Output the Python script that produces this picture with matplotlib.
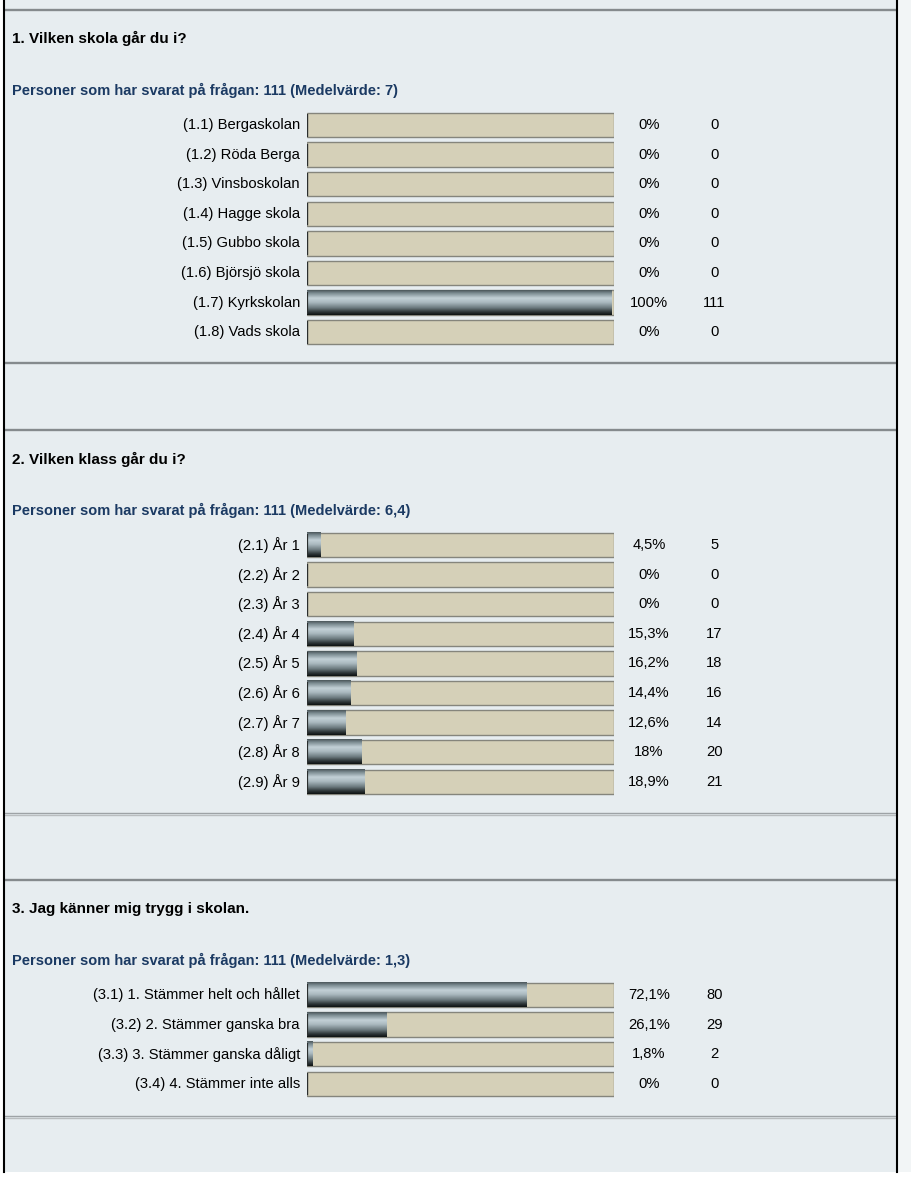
import matplotlib
matplotlib.use("Agg")
import matplotlib.pyplot as plt
import numpy as np
from matplotlib.colors import LinearSegmentedColormap

plt.rcParams['font.family'] = ['Liberation Sans', 'DejaVu Sans']

# ---------------- data ----------------
q1_title = "1. Vilken skola går du i?"
q1_sub = "Personer som har svarat på frågan: 111 (Medelvärde: 7)"
q1_labels = ["(1.1) Bergaskolan", "(1.2) Röda Berga", "(1.3) Vinsboskolan", "(1.4) Hagge skola",
             "(1.5) Gubbo skola", "(1.6) Björsjö skola", "(1.7) Kyrkskolan", "(1.8) Vads skola"]
q1_pct = [0, 0, 0, 0, 0, 0, 100, 0]
q1_cnt = [0, 0, 0, 0, 0, 0, 111, 0]

q2_title = "2. Vilken klass går du i?"
q2_sub = "Personer som har svarat på frågan: 111 (Medelvärde: 6,4)"
q2_labels = ["(2.1) År 1", "(2.2) År 2", "(2.3) År 3", "(2.4) År 4", "(2.5) År 5",
             "(2.6) År 6", "(2.7) År 7", "(2.8) År 8", "(2.9) År 9"]
q2_pct = [4.5, 0, 0, 15.3, 16.2, 14.4, 12.6, 18, 18.9]
q2_cnt = [5, 0, 0, 17, 18, 16, 14, 20, 21]

q3_title = "3. Jag känner mig trygg i skolan."
q3_sub = "Personer som har svarat på frågan: 111 (Medelvärde: 1,3)"
q3_labels = ["(3.1) 1. Stämmer helt och hållet", "(3.2) 2. Stämmer ganska bra",
             "(3.3) 3. Stämmer ganska dåligt", "(3.4) 4. Stämmer inte alls"]
q3_pct = [72.1, 26.1, 1.8, 0]
q3_cnt = [80, 29, 2, 0]

# ---------------- layout (pixels) ----------------
W, H = 912, 1182
BG = "#e7edf0"
TRACK = "#d5d0b8"
SUBCOL = "#1b3a63"
ROW = 29.6
BAR_L, BAR_R = 307, 614
FS_TITLE, FS_SUB, FS_TXT = 11, 10.5, 10.6
sections = [
    dict(title=q1_title, sub=q1_sub, labels=q1_labels, pct=q1_pct, cnt=q1_cnt,
         ty=38, sy=90, y0=125),
    dict(title=q2_title, sub=q2_sub, labels=q2_labels, pct=q2_pct, cnt=q2_cnt,
         ty=459, sy=510, y0=545),
    dict(title=q3_title, sub=q3_sub, labels=q3_labels, pct=q3_pct, cnt=q3_cnt,
         ty=909, sy=960, y0=995),
]

fig = plt.figure(figsize=(W / 100, H / 100), dpi=100)
fig.patch.set_facecolor("white")

bg = fig.add_axes([0, 0, 1, 1])
bg.set_xlim(0, W)
bg.set_ylim(H, 0)
bg.axis("off")
# panel background
bg.add_patch(plt.Rectangle((4, 0), 893, 1172, facecolor=BG, edgecolor="none", zorder=0))
bg.add_patch(plt.Rectangle((898, 0), 14, 1172, facecolor="#f2f5f6", edgecolor="none", zorder=0))
bg.plot([4, 4], [0, 1172], color="black", lw=1.5, zorder=3)
bg.plot([897, 897], [0, 1172], color="black", lw=1.5, zorder=3)

# separator lines
for y in [9.5, 363, 430, 880]:
    bg.plot([5, 896], [y, y], color="#858a8d", lw=1.7, zorder=2)
for y in [812.5, 1115.5]:
    bg.plot([5, 896], [y, y], color="#9ea3a6", lw=1.0, zorder=2)
    bg.plot([5, 896], [y + 2.6, y + 2.6], color="#b9bdbf", lw=1.0, zorder=2)

# gradient for filled bars (top -> bottom)
grad_cmap = LinearSegmentedColormap.from_list(
    "metal",
    [(0.0, "#4c575b"), (0.12, "#7d8d93"), (0.32, "#c3d0d6"), (0.5, "#a9b8be"),
     (0.72, "#6a787c"), (0.88, "#2e3638"), (1.0, "#0e1212")])
grad = np.linspace(0, 1, 64).reshape(-1, 1)


def fmt_pct(p):
    s = ("%.1f" % p).rstrip("0").rstrip(".")
    return s.replace(".", ",") + "%"


for sec in sections:
    bg.text(12, sec["ty"], sec["title"], fontsize=FS_TITLE, fontweight="bold",
            color="black", va="center", ha="left")
    bg.text(12, sec["sy"], sec["sub"], fontsize=FS_SUB, fontweight="bold",
            color=SUBCOL, va="center", ha="left")

    n = len(sec["labels"])
    top_px = sec["y0"] - ROW / 2
    bot_px = top_px + n * ROW
    ax = fig.add_axes([BAR_L / W, 1 - bot_px / H, (BAR_R - BAR_L) / W, n * ROW / H])
    ax.axis("off")
    hgt = 0.82
    ypos = np.arange(n)
    ax.barh(ypos, [100] * n, height=hgt, left=0, color=TRACK,
            edgecolor="#85857c", linewidth=1.0, zorder=1)
    for i, (p, c, lab) in enumerate(zip(sec["pct"], sec["cnt"], sec["labels"])):
        if p > 0:
            ax.imshow(grad, cmap=grad_cmap, aspect="auto", origin="upper",
                      extent=(0, p * 0.993, i + hgt / 2, i - hgt / 2),
                      interpolation="bilinear", zorder=2)
        ax.plot([0.15, 0.15], [i - hgt / 2 + 0.04, i + hgt / 2 - 0.02],
                color="#2a2e2e", lw=1.6, zorder=3, solid_capstyle="butt")
        tr = ax.get_yaxis_transform()
        ax.text(-0.023, i, lab, transform=tr, ha="right", va="center",
                fontsize=FS_TXT, color="black")
        ax.text(1.114, i, fmt_pct(p), transform=tr, ha="center", va="center",
                fontsize=FS_TXT, color="black")
        ax.text(1.327, i, str(c), transform=tr, ha="center", va="center",
                fontsize=FS_TXT, color="black")
    ax.set_xlim(0, 100)
    ax.set_ylim(n - 0.5, -0.5)

fig.savefig("out.png", dpi=100, facecolor=fig.get_facecolor())
